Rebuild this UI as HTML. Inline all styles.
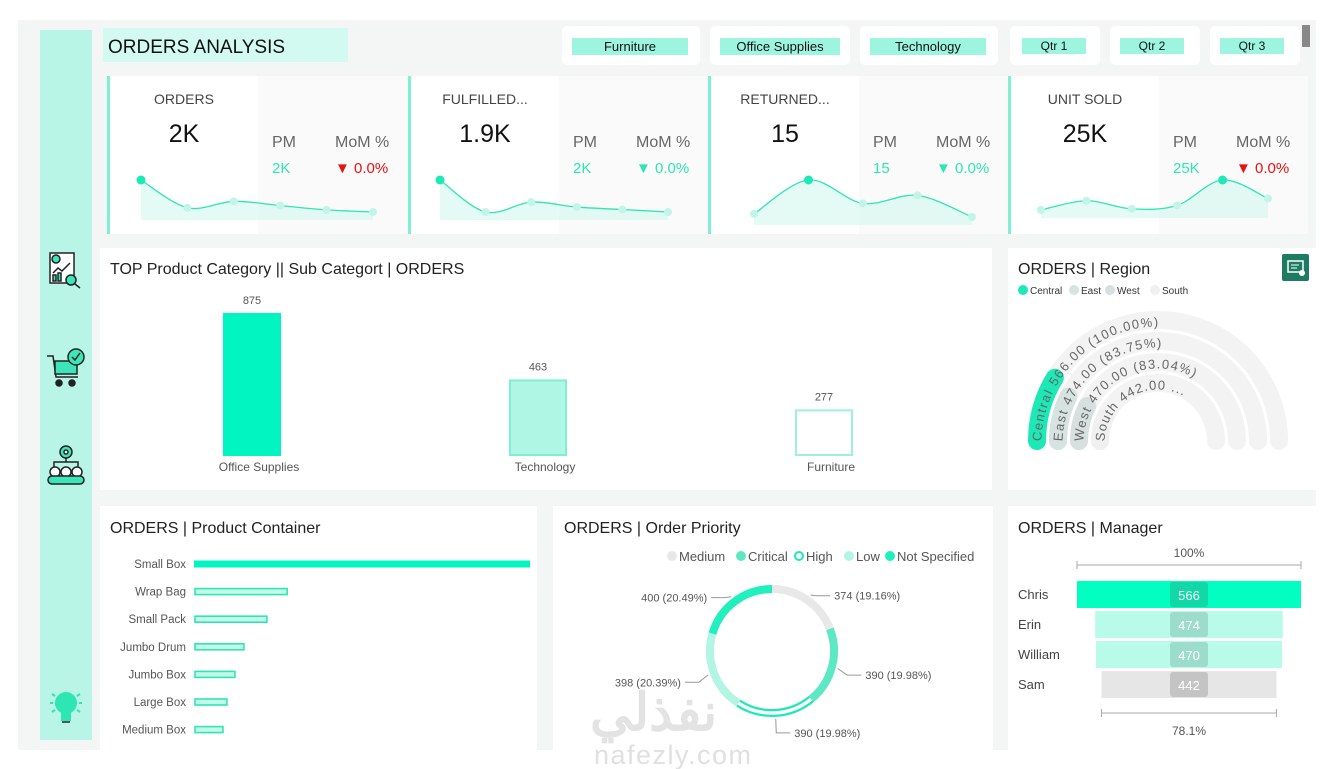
<!DOCTYPE html>
<html><head><meta charset="utf-8"><style>
html,body{margin:0;padding:0;background:#fff;width:1338px;height:769px;overflow:hidden}
svg{display:block;font-family:"Liberation Sans","Noto Sans CJK SC",sans-serif}
</style></head><body>
<svg id="s" width="1338" height="769" viewBox="0 0 1338 769">
<rect x="18" y="20" width="1298" height="730" fill="#f4f5f5"/>
<rect x="40" y="30" width="52" height="710" fill="#b8f5e6"/>
<g stroke="#222" stroke-width="1.5" fill="none">
<rect x="50" y="253" width="24" height="30" fill="#fff"/><circle cx="56" cy="259" r="4" fill="#3ce6b8"/><polyline points="53,273 58,268 62,271 70,263"/><rect x="53" y="275" width="3" height="6" fill="#3ce6b8"/><rect x="58" y="273" width="3" height="8" fill="#3ce6b8"/><circle cx="71" cy="280" r="5" fill="#3ce6b8"/><line x1="75" y1="284" x2="80" y2="288"/></g>
<g stroke="#222" stroke-width="1.5">
<polyline points="47,356 53,356 56,377 78,377" fill="none"/><rect x="55" y="361" width="22" height="13" fill="#3ce6b8"/><circle cx="76" cy="357" r="8" fill="#3ce6b8"/><polyline points="72,357 75,360 80,353" fill="none"/><circle cx="59" cy="383" r="3" fill="#222"/><circle cx="72" cy="383" r="3" fill="#222"/></g>
<g stroke="#222" stroke-width="1.5">
<circle cx="66" cy="452" r="6" fill="#3ce6b8"/><circle cx="66" cy="452" r="2" fill="#fff"/><line x1="66" y1="458" x2="66" y2="462"/><polyline points="54,468 54,462 78,462 78,468" fill="none"/>
<circle cx="55" cy="472" r="5" fill="#fff"/><circle cx="66" cy="472" r="5" fill="#fff"/><circle cx="77" cy="472" r="5" fill="#fff"/><rect x="48" y="476" width="36" height="8" rx="4" fill="#3ce6b8"/></g>
<g><circle cx="66" cy="703" r="11" fill="#2ee6b4"/><rect x="61" y="711" width="10" height="10" fill="#2ee6b4"/><rect x="62" y="721" width="8" height="2" fill="#555"/><g stroke="#2ee6b4" stroke-width="2"><line x1="50" y1="703" x2="53" y2="703"/><line x1="79" y1="703" x2="82" y2="703"/><line x1="52" y1="694" x2="55" y2="696"/><line x1="80" y1="694" x2="77" y2="696"/><line x1="52" y1="712" x2="55" y2="710"/><line x1="80" y1="712" x2="77" y2="710"/></g></g>

<rect x="103" y="28" width="245" height="34" fill="#d3faf0"/>
<text x="108" y="53" font-size="19" fill="#111">ORDERS ANALYSIS</text>

<g font-size="13" fill="#111" text-anchor="middle">
<g><rect x="562" y="26" width="138" height="39" rx="5" fill="#fff"/><rect x="572" y="38" width="116" height="17" fill="#9df5df"/><text x="630" y="51" fill="#111">Furniture</text></g>
<g><rect x="710" y="26" width="140" height="39" rx="5" fill="#fff"/><rect x="720" y="38" width="120" height="17" fill="#9df5df"/><text x="780" y="51" fill="#111">Office Supplies</text></g>
<g><rect x="860" y="26" width="138" height="39" rx="5" fill="#fff"/><rect x="870" y="38" width="116" height="17" fill="#9df5df"/><text x="928" y="51" fill="#111">Technology</text></g>
<g><rect x="1010" y="26" width="90" height="39" rx="5" fill="#fff"/><rect x="1022" y="38" width="64" height="16" fill="#9df5df"/><text x="1054" y="50" font-size="12" fill="#111">Qtr 1</text></g>
<g><rect x="1110" y="26" width="90" height="39" rx="5" fill="#fff"/><rect x="1120" y="38" width="64" height="16" fill="#9df5df"/><text x="1152" y="50" font-size="12" fill="#111">Qtr 2</text></g>
<g><rect x="1210" y="26" width="90" height="39" rx="5" fill="#fff"/><rect x="1220" y="38" width="64" height="16" fill="#9df5df"/><text x="1252" y="50" font-size="12" fill="#111">Qtr 3</text></g>
</g>
<rect x="1302" y="25" width="8" height="22" fill="#888"/>

<g id="kpis"></g>

<rect x="100" y="248" width="892" height="242" fill="#fff"/>
<text x="110" y="274" font-size="16" fill="#222">TOP Product Category || Sub Categort | ORDERS</text>
<g id="catbars"></g>

<rect x="1008" y="248" width="308" height="242" fill="#fff"/>
<text x="1018" y="274" font-size="16" fill="#222">ORDERS | Region</text>
<g><rect x="1282" y="254" width="27" height="27" rx="2" fill="#1d7a63"/><rect x="1288" y="261" width="15" height="11" fill="none" stroke="#fff" stroke-width="1.5"/><line x1="1291" y1="265" x2="1299" y2="265" stroke="#fff"/><line x1="1291" y1="268" x2="1297" y2="268" stroke="#fff"/><circle cx="1302" cy="273" r="3" fill="#fff"/></g>
<g id="regionlegend" font-size="10" fill="#333"></g>
<g id="region"></g>

<rect x="100" y="506" width="437" height="244" fill="#fff"/>
<text x="110" y="533" font-size="16" fill="#222">ORDERS | Product Container</text>
<g id="container"></g>

<rect x="553" y="506" width="440" height="244" fill="#fff"/>
<text x="564" y="533" font-size="16" fill="#222">ORDERS | Order Priority</text>
<g id="priority"></g>

<rect x="1008" y="506" width="308" height="244" fill="#fff"/>
<text x="1018" y="533" font-size="16" fill="#222">ORDERS | Manager</text>
<g id="manager"></g>

<text x="590" y="730" font-size="52" font-weight="bold" fill="#e3e3e3" font-family="'Noto Sans CJK SC',sans-serif">نفذلي</text>
<text x="594" y="764" font-size="27" letter-spacing="1.5" fill="#e0e0e0">nafezly.com</text>
</svg>
<script>
const kpiTitles=["ORDERS","FULFILLED...","RETURNED...","UNIT SOLD"];
const kpiValues=["2K","1.9K","15","25K"];
const kpiPM=["2K","2K","15","25K"];
const kpiMoM=["0.0%","0.0%","0.0%","0.0%"];
const kpiMoMUp=[false,true,true,false];
const sparkOrders=[175,162,165,163,161,160];
const sparkFulfilled=[170,157,161,159,158,157];
const sparkReturned=[9.5,15,11.2,12.5,9];
const sparkUnits=[2.0,2.4,2.05,2.2,3.3,2.5];
const catNames=["Office Supplies","Technology","Furniture"];
const catValues=[875,463,277];
const regionNames=["Central","East","West","South"];
const regionValues=[566,474,470,442];
const regionPct=["100.00%","83.75%","83.04%",""];
const contNames=["Small Box","Wrap Bag","Small Pack","Jumbo Drum","Jumbo Box","Large Box","Medium Box"];
const contValues=[1010,283,222,153,126,102,90];
const prioNames=["Medium","Critical","High","Low","Not Specified"];
const prioValues=[374,390,390,398,400];
const mgrNames=["Chris","Erin","William","Sam"];
const mgrValues=[566,474,470,442];

const NS="http://www.w3.org/2000/svg";
function mk(parent,tag,attrs,txt){const e=document.createElementNS(NS,tag);for(const k in attrs)e.setAttribute(k,attrs[k]);if(txt!==undefined)e.textContent=txt;parent.appendChild(e);return e;}
function smooth(pts){let d="M"+pts[0][0]+","+pts[0][1];for(let i=0;i<pts.length-1;i++){const p0=pts[i-1]||pts[i],p1=pts[i],p2=pts[i+1],p3=pts[i+2]||p2;const c1x=p1[0]+(p2[0]-p0[0])/6,c1y=p1[1]+(p2[1]-p0[1])/6,c2x=p2[0]-(p3[0]-p1[0])/6,c2y=p2[1]-(p3[1]-p1[1])/6;d+=" C"+c1x+","+c1y+" "+c2x+","+c2y+" "+p2[0]+","+p2[1];}return d;}

const kg=document.getElementById("kpis");
const sparks=[sparkOrders,sparkFulfilled,sparkReturned,sparkUnits];
const cardX=[107,408,708,1008];
const sparkX0=[141,440,754,1041], sparkX1=[373,668,972,1268];
const sparkHL=[0,0,1,4];
for(let i=0;i<4;i++){
  const x=cardX[i];
  const g=mk(kg,"g",{});
  
  
  mk(g,"rect",{x:x,y:76,width:300,height:158,fill:"#fafafa"});
  mk(g,"rect",{x:x,y:76,width:151,height:158,fill:"#fff"});
  mk(g,"rect",{x:x,y:76,width:3,height:158,fill:"#7ff0d2"});
  const sv=sparks[i],mn=Math.min(...sv),mx=Math.max(...sv);
  const top=180, bot=i===2?217:(i===3?210:212);
  const n=sv.length,step=(sparkX1[i]-sparkX0[i])/(n-1);
  const pts=sv.map((v,j)=>[sparkX0[i]+j*step, bot-(v-mn)/(mx-mn)*(bot-top)]);
  const d=smooth(pts);
  const area=mk(g,"path",{d:d+" L"+pts[n-1][0]+","+(bot+8)+" L"+pts[0][0]+","+(bot+8)+" Z",fill:"#c8f7ea","fill-opacity":"0.5"});
  
  
  const ln=mk(g,"path",{d:d,fill:"none",stroke:"#2ee6b4","stroke-width":1.3});
  
  
  pts.forEach((p,j)=>{const c=mk(g,"circle",{cx:p[0],cy:p[1],r:j===sparkHL[i]?4.5:4,fill:j===sparkHL[i]?"#1de9b6":"#c2f5e7"});
    
    });
  const t=mk(g,"text",{x:x+77,y:104,"font-size":14,fill:"#444","text-anchor":"middle"},kpiTitles[i]);
  
  
  const v=mk(g,"text",{x:x+77,y:142,"font-size":25,fill:"#111","text-anchor":"middle"},kpiValues[i]);
  
  
  const pm=mk(g,"text",{x:x+165,y:147,"font-size":16,fill:"#666"},"PM");
  
  
  const mo=mk(g,"text",{x:x+228,y:147,"font-size":16,fill:"#666"},"MoM %");
  
  
  const pv=mk(g,"text",{x:x+165,y:173,"font-size":15,fill:"#2ee6b4"},kpiPM[i]);
  
  
  const col=kpiMoMUp[i]?"#2ee6b4":"#e81010";
  const mv=mk(g,"text",{x:x+228,y:173,"font-size":15,fill:col},"▼ "+kpiMoM[i]);
  
  
}

const cg=document.getElementById("catbars");
const catX=c=>252+c*286, catBase=455, catY=v=>catBase-v/875*141;
const catFill=["#00f5c0","#b0f6e4","#ffffff"], catStroke=["#00f5c0","#80efd1","#9df0da"];
catValues.forEach((v,i)=>{
  const r=mk(cg,"rect",{x:catX(i)-28,y:catY(v),width:56,height:catBase-catY(v),fill:catFill[i],stroke:catStroke[i],"stroke-width":2});
  
  
  const l=mk(cg,"text",{x:catX(i),y:catY(v)-10,"font-size":11,fill:"#555","text-anchor":"middle"},v);
  
  
  const n=mk(cg,"text",{x:catX(i)+7,y:471,"font-size":12,fill:"#555","text-anchor":"middle"},catNames[i]);
  
  
});

const rl=document.getElementById("regionlegend");
const regCol=["#1de9b6","#d6e3e0","#d6e0de","#f0f0f0"];
const legX=[1018,1069,1105,1150];
regionNames.forEach((n,i)=>{
  const g=mk(rl,"g",{});
  
  
  mk(g,"circle",{cx:legX[i]+5,cy:290,r:5,fill:regCol[i]});
  mk(g,"text",{x:legX[i]+12,y:294,"font-size":10,fill:"#333"},n);
});
const rg=document.getElementById("region");
const rcx=1158, rcy=441, radii=[121,100,79,58];
const maxReg=Math.max(...regionValues);
const defs=mk(rg,"defs",{});
regionValues.forEach((v,i)=>{
  const r=radii[i];
  const track=mk(rg,"path",{d:`M${rcx-r},${rcy} A${r},${r} 0 0 1 ${rcx+r},${rcy}`,fill:"none",stroke:"#f3f3f3","stroke-width":18,"stroke-linecap":"round"});
  
  
  const a=Math.PI-(v/maxReg)*0.55;
  const ex=rcx+r*Math.cos(a), ey=rcy-r*Math.sin(a);
  const bar=mk(rg,"path",{d:`M${rcx-r},${rcy} A${r},${r} 0 0 1 ${ex},${ey}`,fill:"none",stroke:regCol[i],"stroke-width":18,"stroke-linecap":"round"});
  
  
  mk(defs,"path",{id:"rp"+i,d:`M${rcx-r},${rcy+4} A${r},${r} 0 0 1 ${rcx+r},${rcy}`});
  const t=mk(rg,"text",{"font-size":13,fill:"#666","letter-spacing":"1.7",dy:4.5});
  
  
  const tp=mk(t,"textPath",{href:"#rp"+i,startOffset:4});
  tp.textContent=regionNames[i]+" "+v.toFixed(2)+" "+(regionPct[i]?"("+regionPct[i]+")":"...");
});

const pg=document.getElementById("container");
const contX0=194, contW=v=>v/1010*336, contY=i=>564+i*27.6;
contValues.forEach((v,i)=>{
  const l=mk(pg,"text",{x:186,y:contY(i)+4,"font-size":11.5,fill:"#555","text-anchor":"end"},contNames[i]);
  
  
  const b=i===0?mk(pg,"rect",{x:contX0,y:contY(i)-3.5,width:contW(v),height:7,fill:"#00f5c0"})
    :mk(pg,"rect",{x:contX0+1,y:contY(i)-3,width:contW(v)-2,height:6,fill:"#c6f8ea",stroke:"#2ee6b4","stroke-width":1.6});
  
  
});

const og=document.getElementById("priority");
const prCol=["#e8e8e8","#5de8c4","#1de9b6","#b2f5e2","#1ff0be"];
const legPX=[667,736,794,844,885];
prioNames.forEach((n,i)=>{
  const g=mk(og,"g",{});
  
  
  if(i===2)mk(g,"circle",{cx:legPX[i]+5,cy:556,r:4,fill:"#fff",stroke:prCol[i],"stroke-width":2});
  else mk(g,"circle",{cx:legPX[i]+5,cy:556,r:5,fill:prCol[i]});
  mk(g,"text",{x:legPX[i]+12,y:561,"font-size":13,fill:"#555"},n);
});
const dcx=772,dcy=651,dr=62,total=prioValues.reduce((a,b)=>a+b,0);
let acc=0;
prioValues.forEach((v,i)=>{
  const a0=acc/total*2*Math.PI-Math.PI/2; acc+=v; const a1=acc/total*2*Math.PI-Math.PI/2;
  const p=(a)=>[dcx+dr*Math.cos(a),dcy+dr*Math.sin(a)];
  const s=p(a0),e=p(a1);
  const d=`M${s[0]},${s[1]} A${dr},${dr} 0 0 1 ${e[0]},${e[1]}`;
  const seg=mk(og,"path",{d:d,fill:"none",stroke:prCol[i],"stroke-width":8});
  
  
  if(i===2){const h=mk(og,"path",{d:d,fill:"none",stroke:"#fff","stroke-width":3.5});
    
    }
  const am=(a0+a1)/2, c=Math.cos(am), sn=Math.sin(am);
  const q1=[dcx+(dr+6)*c,dcy+(dr+6)*sn], q2=[dcx+(dr+16)*c,dcy+(dr+16)*sn+(sn<0?9:4)];
  const right=c>=0, q3=[q2[0]+(right?14:-14),q2[1]];
  const ll=mk(og,"polyline",{points:`${q1[0]},${q1[1]} ${q2[0]},${q2[1]} ${q3[0]},${q3[1]}`,fill:"none",stroke:"#999","stroke-width":1});
  
  
  const t=mk(og,"text",{x:q3[0]+(right?4:-4),y:q3[1]+4,"font-size":11,fill:"#555","text-anchor":right?"start":"end"},v+" ("+(v/total*100).toFixed(2)+"%)");
  
  
});

const mg=document.getElementById("manager");
const mcx=1189, mW=v=>v/mgrValues[0]*224, mY=i=>581+i*30;
const mCol=["#00ffc0","#b8fbe8","#b8fbe8","#e6e6e6"], mBox=["#12d8a8","#9cdccb","#9cdccb","#c4c4c4"];
const first=mgrValues[0], last=mgrValues[mgrValues.length-1];
const t1=mk(mg,"text",{x:mcx,y:557,"font-size":12,fill:"#555","text-anchor":"middle"},"100%");


const l1=mk(mg,"path",{d:`M${mcx-mW(first)/2},561 v8 M${mcx-mW(first)/2},565 H${mcx+mW(first)/2} M${mcx+mW(first)/2},561 v8`,stroke:"#aaa",fill:"none"});


mgrValues.forEach((v,i)=>{
  const n=mk(mg,"text",{x:1018,y:mY(i)+18,"font-size":13,fill:"#444"},mgrNames[i]);
  
  
  const b=mk(mg,"rect",{x:mcx-mW(v)/2,y:mY(i),width:mW(v),height:27,fill:mCol[i]});
  
  
  const bx=mk(mg,"rect",{x:mcx-19,y:mY(i)+1,width:38,height:25,rx:3,fill:mBox[i]});
  
  
  const t=mk(mg,"text",{x:mcx,y:mY(i)+19,"font-size":13,fill:"#fff","text-anchor":"middle"},v);
  
  
});
const lw=mW(last);
const l2=mk(mg,"path",{d:`M${mcx-lw/2},709 v8 M${mcx-lw/2},713 H${mcx+lw/2} M${mcx+lw/2},709 v8`,stroke:"#aaa",fill:"none"});


const t2=mk(mg,"text",{x:mcx,y:735,"font-size":12,fill:"#555","text-anchor":"middle"},(last/first*100).toFixed(1)+"%");


</script>
</body></html>
